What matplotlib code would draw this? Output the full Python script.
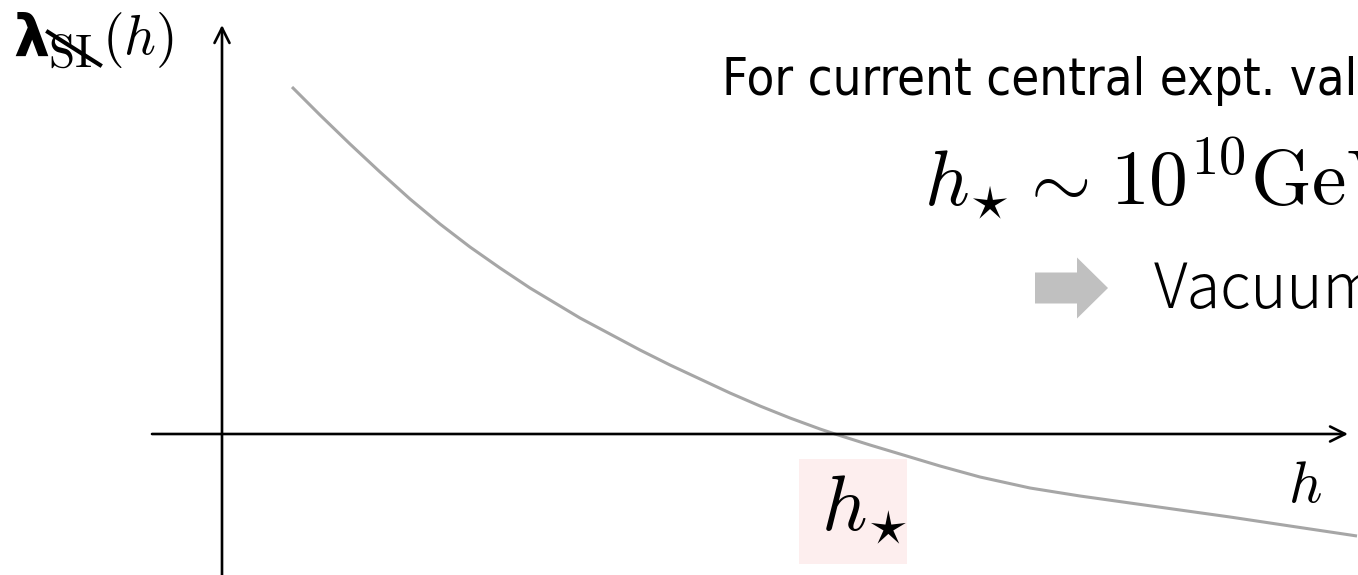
import matplotlib
matplotlib.use("Agg")
import matplotlib.pyplot as plt
from matplotlib.patches import Rectangle, FancyArrow

plt.rcParams['mathtext.fontset'] = 'cm'

# running coupling sketch, origin at the crossing of the two axes
h_vals = [70, 98, 128, 158, 188, 218, 248, 278, 308, 338, 358, 388, 418, 448, 478, 508,
          538, 568, 598, 613, 648, 678, 718, 758, 808, 858, 908, 958, 1008, 1068, 1135]
lam_vals = [347, 319, 290, 262, 235, 210, 187, 166, 146, 128, 116, 100, 84, 69, 55, 41,
            28, 16, 5, 0, -11, -20, -32, -43, -54, -62, -69, -76, -83, -92, -102]
h_star = 613

line1 = "For current central expt. val"
line2_parts = [r"$h_{\!\star}$", r"$\sim$", r"$10^{10}\mathrm{GeV}$"]
line2_x = [702, 795, 888]
line3 = "Vacuum"

fig = plt.figure(figsize=(13.58, 5.75), dpi=100)
ax = fig.add_axes([0, 0, 1, 1])
ax.set_xlim(-222, 1136)
ax.set_ylim(-141, 434)
ax.axis('off')
renderer = fig.canvas.get_renderer()

# axes with arrow heads
ax.annotate('', xy=(1126, 0), xytext=(-70, 0),
            arrowprops=dict(arrowstyle='->', lw=1.9, color='black', mutation_scale=27,
                            shrinkA=0, shrinkB=0))
ax.annotate('', xy=(0, 409), xytext=(0, -141),
            arrowprops=dict(arrowstyle='->', lw=1.9, color='black', mutation_scale=27,
                            shrinkA=0, shrinkB=0))

ax.plot(h_vals, lam_vals, color='#a6a6a6', lw=2.2, solid_capstyle='butt')

# highlighted h_star label under the zero crossing
ax.add_patch(Rectangle((h_star - 36, -130), 108, 105, facecolor='#fdeeee', edgecolor='none'))
ax.text(h_star - 14, -96, r'$h_{\!\star}$', fontsize=57, ha='left', va='baseline')
ax.text(1066, -68, r'$h$', fontsize=42, ha='left', va='baseline')

# y-axis label: lambda with struck-out SI subscript
ax.text(-209, 379, 'λ', fontsize=41, fontweight='heavy', family='DejaVu Sans',
        ha='left', va='baseline')
ax.text(-174, 367, r'$\mathrm{SI}$', fontsize=34, ha='left', va='baseline')
ax.plot([-174, -122], [402, 369], color='black', lw=3)
ax.text(-120, 380, r'$(h)$', fontsize=40, ha='left', va='baseline')

# annotations on the right
t1 = ax.text(500, 339, line1, fontsize=41.5, family='DejaVu Sans', fontstretch='condensed',
             ha='left', va='baseline')
w = t1.get_window_extent(renderer).width
if w > 636:
    t1.set_fontsize(41.5 * 636 / w)

for part, x in zip(line2_parts, line2_x):
    ax.text(x, 229, part, fontsize=56, ha='left', va='baseline')

ax.add_patch(FancyArrow(813, 146, 73, 0, width=31, head_width=61, head_length=31,
                        length_includes_head=True, color='#c0c0c0', ec='none'))
ax.text(932, 126, line3, fontsize=44, family=['Noto Sans CJK JP', 'DejaVu Sans'],
        fontweight='light', ha='left', va='baseline')

fig.savefig('out.png', dpi=100)
